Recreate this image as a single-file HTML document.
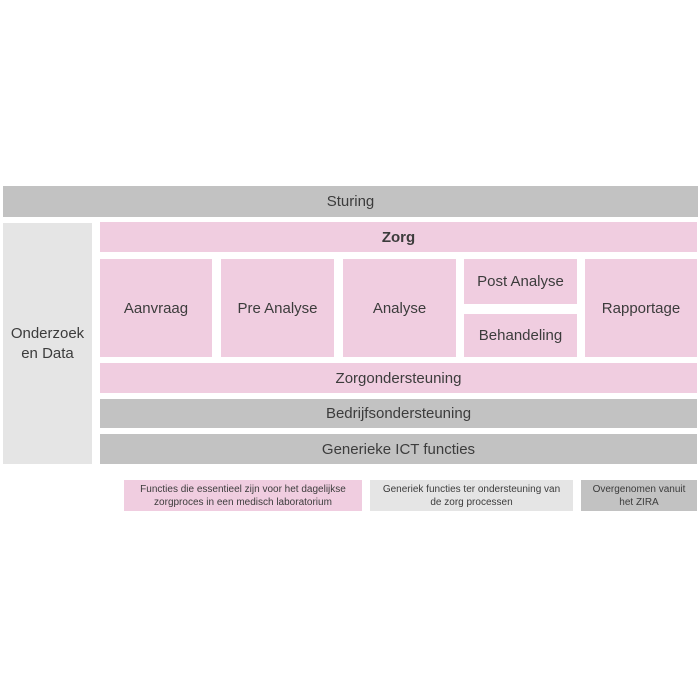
<!DOCTYPE html>
<html><head><style>
body{margin:0;width:700px;height:700px;background:#fff;position:relative;font-family:"Liberation Sans",sans-serif;color:#3c3c3c;overflow:hidden}
.b{position:absolute;display:flex;align-items:center;justify-content:center;text-align:center;font-size:15px}
.g{background:#c2c2c2}.p{background:#f0cde0}.l{background:#e5e5e5}
.s{font-size:10px;line-height:13px}
</style></head><body>
<div class="b g" style="left:3px;top:186px;width:695px;height:31px">Sturing</div>
<div class="b l" style="left:3px;top:223px;width:89px;height:241px;line-height:20px">Onderzoek<br>en Data</div>
<div class="b p" style="left:100px;top:222px;width:597px;height:30px;font-weight:bold">Zorg</div>
<div class="b p" style="left:100px;top:259px;width:112px;height:98px">Aanvraag</div>
<div class="b p" style="left:221px;top:259px;width:113px;height:98px">Pre Analyse</div>
<div class="b p" style="left:343px;top:259px;width:113px;height:98px">Analyse</div>
<div class="b p" style="left:464px;top:259px;width:113px;height:45px">Post Analyse</div>
<div class="b p" style="left:464px;top:314px;width:113px;height:43px">Behandeling</div>
<div class="b p" style="left:585px;top:259px;width:112px;height:98px">Rapportage</div>
<div class="b p" style="left:100px;top:363px;width:597px;height:30px">Zorgondersteuning</div>
<div class="b g" style="left:100px;top:399px;width:597px;height:29px">Bedrijfsondersteuning</div>
<div class="b g" style="left:100px;top:434px;width:597px;height:30px">Generieke ICT functies</div>
<div class="b p s" style="left:124px;top:480px;width:238px;height:31px">Functies die essentieel zijn voor het dagelijkse<br>zorgproces in een medisch laboratorium</div>
<div class="b l s" style="left:370px;top:480px;width:203px;height:31px">Generiek functies ter ondersteuning van<br>de zorg processen</div>
<div class="b g s" style="left:581px;top:480px;width:116px;height:31px">Overgenomen vanuit<br>het ZIRA</div>
</body></html>
